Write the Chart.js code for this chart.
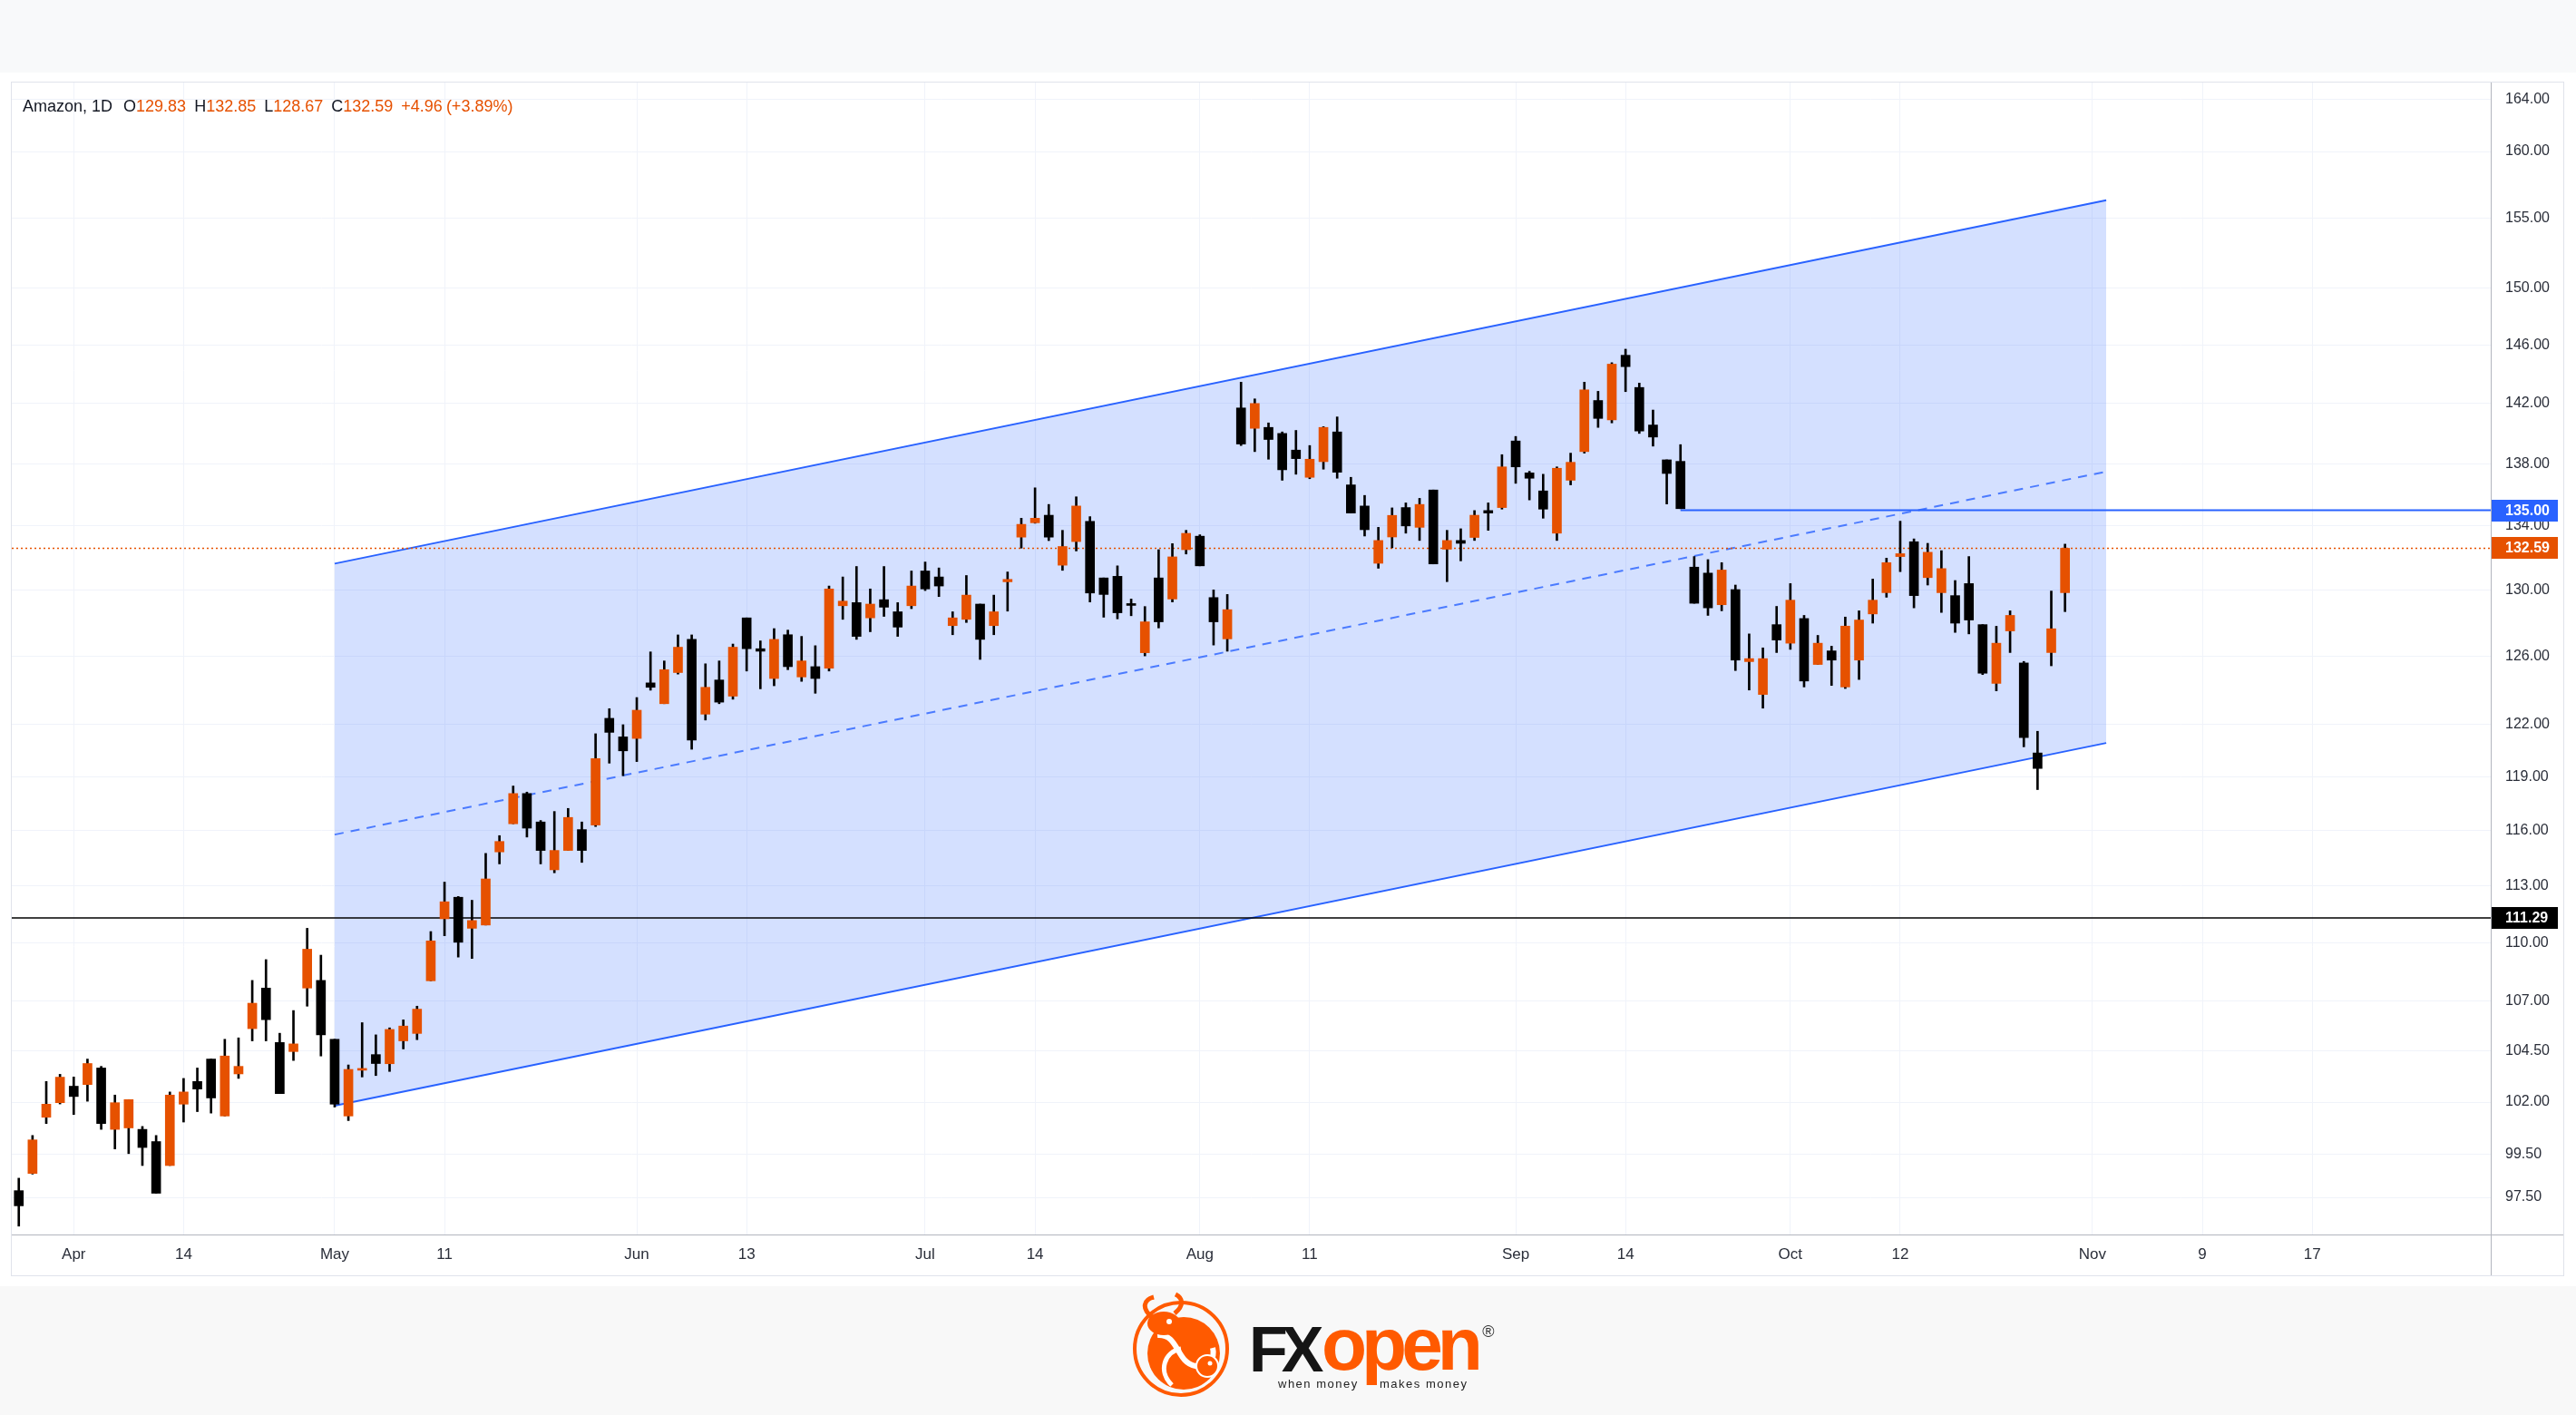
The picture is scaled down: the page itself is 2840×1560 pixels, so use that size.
<!DOCTYPE html>
<html>
<head>
<meta charset="utf-8">
<title>Amazon, 1D</title>
<script src="https://cdn.jsdelivr.net/npm/chart.js@4.4.0/dist/chart.umd.min.js"></script>
<style>
  html, body { margin: 0; padding: 0; }
  body { width: 2840px; height: 1560px; position: relative; background: #fff; overflow: hidden;
         font-family: "Liberation Sans", Arial, sans-serif; }
  #topband { position: absolute; left: 0; top: 0; width: 2840px; height: 80px; background: #f8f9fa; }
  #frame { position: absolute; left: 12px; top: 90px; width: 2815px; height: 1317px;
           border: 1px solid #e0e3eb; box-sizing: border-box; }
  #wrap { position: absolute; left: 13px; top: 91px; width: 2813px; height: 1315px; }
  #legend { position: absolute; left: 25px; top: 106px; height: 22px; line-height: 22px;
            font-size: 18px; color: #131722; white-space: nowrap; }
  #legend span { margin-right: 9px; }
  #legend span.first { margin-right: 12px; }
  #legend span.chg { margin-right: 4px; }
  #legend .v { color: #e65100; font-weight: normal; }
  #bottomband { position: absolute; left: 0; top: 1418px; width: 2840px; height: 142px; background: #f8f8f8; }
  #logo { position: absolute; left: 0; top: 0; }
</style>
</head>
<body>
<div id="topband"></div>
<div id="frame"></div>
<div id="wrap"><canvas id="chart"></canvas></div>
<div id="legend"></div>
<div id="bottomband"></div>
<svg id="logo" width="2840" height="1560">
  <circle cx="1302" cy="1487" r="51" fill="none" stroke="#ff5a00" stroke-width="4"/>
  <circle cx="1305" cy="1492" r="40" fill="#ff5a00"/>
  <path d="M1276 1472 C1300 1470 1296 1502 1318 1506 C1332 1509 1340 1498 1337 1486" fill="none" stroke="#fff" stroke-width="6"/>
  <path d="M1292 1527 C1276 1512 1284 1490 1302 1487" fill="none" stroke="#fff" stroke-width="5"/>
  <ellipse cx="1283" cy="1459" rx="18" ry="13" fill="#ff5a00"/>
  <path d="M1270 1452 C1258 1442 1261 1433 1272 1430" fill="none" stroke="#ff5a00" stroke-width="5"/>
  <path d="M1295 1448 C1306 1439 1304 1431 1296 1427" fill="none" stroke="#ff5a00" stroke-width="5"/>
  <circle cx="1289" cy="1457" r="3" fill="#fff"/>
  <circle cx="1331" cy="1506" r="12" fill="#ff5a00" stroke="#fff" stroke-width="2"/>
  <circle cx="1334" cy="1503" r="2.5" fill="#fff"/>
  <text x="1377" y="1512" font-family="Liberation Sans, Arial, sans-serif" font-weight="700" font-size="70" letter-spacing="-7" fill="#151515">FX</text>
  <text x="1457" y="1510" font-family="Liberation Sans, Arial, sans-serif" font-weight="700" font-size="82" letter-spacing="-6" fill="#ff5a00">open</text>
  <text x="1409" y="1530" font-family="Liberation Sans, Arial, sans-serif" font-size="13" letter-spacing="1.5" fill="#222">when money</text>
  <text x="1521" y="1530" font-family="Liberation Sans, Arial, sans-serif" font-size="13" letter-spacing="1.5" fill="#222">makes money</text>
  <text x="1641" y="1474" font-family="Liberation Sans, Arial, sans-serif" font-size="18" text-anchor="middle" fill="#333">®</text>
</svg>
<script>
// Amazon daily candles, 28 Mar - 30 Oct 2023 (one value per trading day)
const opens = [
  97.81, 98.61, 101.27, 101.97, 102.77, 102.85, 103.66, 100.69, 100.76, 100.69,
  100.11, 98.98, 101.90, 103.00, 104.10, 101.33, 103.37, 105.61, 107.66, 104.92,
  104.47, 107.66, 108.05, 105.08, 101.33, 103.55, 104.32, 103.87, 105.00, 105.37,
  108.03, 111.25, 112.39, 110.75, 110.92, 114.83, 116.37, 118.05, 116.47, 113.86,
  114.91, 116.05, 116.30, 122.33, 121.26, 121.17, 124.40, 123.18, 125.01, 126.99,
  122.57, 124.57, 123.62, 128.29, 126.43, 124.66, 127.27, 124.75, 125.36, 125.27,
  129.03, 129.22, 128.29, 129.40, 128.66, 129.03, 131.17, 130.80, 127.82, 128.20,
  129.13, 127.82, 130.50, 133.29, 134.20, 134.68, 131.53, 133.01, 134.29, 130.74,
  130.84, 129.16, 126.19, 130.74, 129.44, 132.50, 133.35, 129.53, 127.02, 141.70,
  140.34, 140.40, 140.00, 138.90, 137.12, 138.14, 140.10, 136.63, 135.27, 131.65,
  133.30, 135.17, 133.91, 136.30, 132.53, 133.08, 133.27, 134.98, 135.17, 139.50,
  137.41, 136.24, 133.54, 136.93, 138.80, 142.20, 140.90, 145.28, 143.08, 140.56,
  138.26, 138.16, 131.41, 131.04, 129.09, 130.02, 125.66, 123.72, 127.88, 126.76,
  128.25, 125.49, 126.30, 124.16, 125.75, 128.53, 129.83, 132.07, 133.00, 130.76,
  129.83, 129.65, 130.39, 127.88, 124.37, 127.50, 125.58, 120.34, 126.20, 129.83
];
const highs = [
  98.39, 100.40, 103.00, 103.35, 103.22, 104.10, 103.74, 102.34, 102.12, 100.83,
  100.40, 102.49, 103.15, 103.66, 104.10, 105.08, 105.15, 108.05, 109.12, 105.38,
  106.52, 110.75, 109.35, 105.08, 103.81, 105.91, 105.30, 105.65, 106.05, 106.74,
  110.58, 113.20, 112.43, 112.23, 114.75, 115.72, 118.47, 118.13, 116.55, 117.05,
  117.22, 116.47, 121.44, 122.89, 121.96, 123.54, 126.24, 125.70, 127.26, 127.26,
  125.53, 125.70, 126.71, 128.29, 126.90, 127.64, 127.55, 127.17, 126.61, 130.24,
  130.80, 131.45, 130.06, 131.45, 129.22, 131.17, 131.73, 131.36, 128.66, 130.89,
  129.13, 129.68, 131.11, 134.49, 136.44, 135.37, 133.72, 135.86, 134.59, 130.74,
  131.49, 129.44, 128.98, 132.50, 132.88, 133.72, 133.44, 130.00, 129.72, 143.44,
  142.31, 140.70, 140.10, 140.20, 139.20, 140.45, 141.10, 137.12, 135.95, 133.91,
  135.15, 135.47, 135.76, 136.30, 133.72, 133.82, 134.98, 135.47, 138.60, 139.80,
  137.51, 137.32, 137.80, 138.70, 143.44, 142.82, 144.77, 145.70, 143.38, 141.56,
  138.26, 139.26, 132.07, 131.88, 131.69, 130.30, 127.32, 126.48, 128.99, 130.39,
  128.44, 127.23, 126.58, 128.34, 128.72, 130.67, 131.97, 134.30, 133.18, 132.90,
  132.44, 130.58, 132.07, 127.88, 127.78, 128.72, 125.67, 121.58, 129.93, 132.85
];
const lows = [
  96.18, 98.58, 100.97, 101.91, 101.40, 102.04, 100.69, 99.76, 99.54, 98.98,
  97.69, 98.98, 101.04, 101.54, 101.47, 101.33, 103.15, 105.00, 105.00, 102.41,
  104.03, 106.74, 104.25, 101.76, 101.11, 103.22, 103.29, 103.49, 104.60, 105.06,
  108.03, 110.36, 109.25, 109.18, 110.92, 114.18, 116.37, 115.64, 114.18, 113.70,
  114.91, 114.26, 116.22, 119.76, 119.05, 119.85, 123.97, 123.18, 124.92, 120.55,
  122.23, 123.18, 123.44, 125.10, 124.05, 124.23, 125.18, 124.49, 123.79, 125.10,
  128.20, 126.99, 127.45, 128.38, 127.17, 128.85, 129.96, 129.59, 127.27, 128.01,
  125.79, 127.27, 128.70, 132.60, 134.17, 133.07, 131.21, 132.42, 129.26, 128.33,
  128.23, 128.42, 126.00, 127.68, 129.26, 132.23, 131.49, 126.65, 126.28, 139.20,
  138.80, 138.30, 136.93, 137.32, 137.03, 137.65, 137.06, 134.82, 133.36, 131.34,
  132.62, 133.54, 133.08, 131.61, 130.51, 131.80, 133.08, 133.72, 135.07, 136.73,
  135.66, 134.49, 133.08, 136.63, 138.70, 140.40, 140.70, 142.80, 140.00, 139.16,
  135.40, 135.10, 129.18, 128.44, 128.72, 125.13, 123.98, 122.92, 126.20, 126.39,
  124.16, 125.49, 124.25, 124.07, 124.60, 127.97, 129.55, 131.13, 128.90, 130.30,
  128.62, 127.41, 127.32, 124.89, 123.93, 126.20, 120.69, 118.27, 125.41, 128.67
];
const closes = [
  97.11, 100.19, 101.90, 103.21, 102.27, 103.88, 100.97, 101.97, 102.12, 99.83,
  97.69, 102.34, 102.49, 102.63, 102.20, 104.25, 103.74, 106.89, 106.06, 102.41,
  104.85, 109.66, 105.30, 101.90, 103.59, 103.60, 103.88, 105.57, 105.74, 106.59,
  110.09, 112.15, 110.02, 111.16, 113.37, 115.40, 118.05, 116.13, 114.91, 114.91,
  116.72, 114.91, 120.02, 121.52, 120.46, 122.80, 124.14, 125.18, 126.52, 121.08,
  124.14, 123.27, 126.52, 126.43, 126.28, 126.99, 125.36, 125.70, 124.66, 130.06,
  129.31, 127.17, 129.13, 128.94, 127.73, 130.24, 130.06, 130.24, 128.29, 129.68,
  126.99, 128.66, 130.65, 134.10, 134.49, 133.29, 132.70, 135.27, 129.81, 129.72,
  128.60, 129.05, 128.05, 128.05, 132.05, 133.53, 131.49, 128.05, 128.79, 139.30,
  142.00, 139.60, 137.61, 138.34, 138.30, 140.40, 137.45, 134.82, 133.76, 133.08,
  134.67, 134.00, 135.37, 131.61, 133.08, 132.90, 134.68, 134.82, 137.80, 137.80,
  137.06, 135.07, 137.71, 138.10, 142.92, 141.00, 144.67, 144.50, 140.16, 139.76,
  137.37, 135.10, 129.18, 128.90, 131.23, 125.75, 125.84, 125.84, 126.95, 129.37,
  124.51, 126.76, 125.75, 127.79, 128.16, 129.37, 131.69, 132.25, 129.65, 132.34,
  131.32, 127.97, 128.16, 124.97, 126.76, 128.44, 121.22, 119.46, 127.63, 132.59
];

// trading calendar: weekdays minus exchange holidays, then calendar days after the last bar
const firstDay = '2023-03-28';
const lastTradingDay = '2023-10-31';
const lastSlotDay = '2023-11-30';
const holidays = ['2023-04-07', '2023-05-29', '2023-06-19', '2023-07-04', '2023-09-04'];

const xTickDates = ['2023-04-03', '2023-04-14', '2023-05-01', '2023-05-11', '2023-06-01', '2023-06-13',
  '2023-07-03', '2023-07-14', '2023-08-01', '2023-08-11', '2023-09-01', '2023-09-14',
  '2023-10-02', '2023-10-12', '2023-11-01', '2023-11-09', '2023-11-17'];
const xTickLabels = ['Apr', '14', 'May', '11', 'Jun', '13', 'Jul', '14', 'Aug', '11', 'Sep', '14',
  'Oct', '12', 'Nov', '9', '17'];
const yTickValues = [164, 160, 155, 150, 146, 142, 138, 134, 130, 126, 122, 119, 116, 113, 110,
  107, 104.5, 102, 99.5, 97.5];

// parallel channel drawn on the chart
const channelDates = ['2023-05-01', '2023-11-02'];
const channelUpper = [131.63, 156.35];
const channelLower = [101.83, 120.91];

const supportLevel = 111.29;
const resistanceLevel = 135.00;
const resistanceFrom = '2023-09-20';

function buildSlots() {
  const out = [];
  const end = Date.parse(lastSlotDay);
  for (let t = Date.parse(firstDay); t <= end; t += 86400000) {
    const d = new Date(t);
    const s = d.toISOString().slice(0, 10);
    const wd = d.getUTCDay();
    if (s <= lastTradingDay && (wd === 0 || wd === 6 || holidays.includes(s))) continue;
    out.push(s);
  }
  return out;
}
const slots = buildSlots();
const slotOf = d => slots.indexOf(d);
const xMin = -0.51;
const xMax = slots.length - 1;

const upColor = '#e65100';
const downColor = '#000000';
const blue = '#2962ff';
const last = closes.length - 1;
const lastClose = closes[last];

const candleColors = closes.map((c, i) => c >= opens[i] ? upColor : downColor);
const wickData = highs.map((h, i) => ({ x: i, y: [lows[i], h] }));
const bodyData = opens.map((o, i) => ({ x: i, y: [o, closes[i]] }));
const chanX = channelDates.map(slotOf);
const midline = channelUpper.map((u, k) => Math.sqrt(u * channelLower[k]));
const xTickIdx = xTickDates.map(slotOf);

// legend line
const chg = closes[last] - closes[last - 1];
const pct = chg / closes[last - 1] * 100;
document.getElementById('legend').innerHTML =
  '<span class="first">Amazon, 1D</span>' +
  '<span>O<b class="v">' + opens[last].toFixed(2) + '</b></span>' +
  '<span>H<b class="v">' + highs[last].toFixed(2) + '</b></span>' +
  '<span>L<b class="v">' + lows[last].toFixed(2) + '</b></span>' +
  '<span>C<b class="v">' + closes[last].toFixed(2) + '</b></span>' +
  '<span class="chg v">' + (chg >= 0 ? '+' : '') + chg.toFixed(2) + '</span>' +
  '<span class="v">(' + (pct >= 0 ? '+' : '') + pct.toFixed(2) + '%)</span>';

const badges = [
  { value: resistanceLevel, color: blue },
  { value: lastClose, color: upColor },
  { value: supportLevel, color: '#000000' }
];

const axisBadges = {
  id: 'axisBadges',
  afterDraw(chart) {
    const { ctx, chartArea } = chart;
    const y = chart.scales.y;
    ctx.save();
    ctx.strokeStyle = '#b2b5be';
    ctx.lineWidth = 1;
    ctx.beginPath();
    ctx.moveTo(chartArea.right + 0.5, 0);
    ctx.lineTo(chartArea.right + 0.5, chart.height);
    ctx.moveTo(0, chartArea.bottom + 0.5);
    ctx.lineTo(chart.width, chartArea.bottom + 0.5);
    ctx.stroke();
    ctx.font = 'bold 16px "Liberation Sans", Arial, sans-serif';
    ctx.textBaseline = 'middle';
    badges.forEach(b => {
      const py = Math.round(y.getPixelForValue(b.value));
      ctx.fillStyle = b.color;
      ctx.fillRect(chartArea.right + 1, py - 12, 73, 24);
      ctx.fillStyle = '#ffffff';
      ctx.fillText(b.value.toFixed(2), chartArea.right + 16, py + 1);
    });
    ctx.restore();
  }
};

new Chart(document.getElementById('chart'), {
  type: 'bar',
  data: {
    datasets: [
      {
        type: 'line', data: chanX.map((x, k) => ({ x, y: channelUpper[k] })),
        borderColor: blue, borderWidth: 2, pointRadius: 0,
        fill: '+1', backgroundColor: 'rgba(41, 98, 255, 0.2)', order: 6
      },
      {
        type: 'line', data: chanX.map((x, k) => ({ x, y: channelLower[k] })),
        borderColor: blue, borderWidth: 2, pointRadius: 0, fill: false, order: 6
      },
      {
        type: 'line', data: chanX.map((x, k) => ({ x, y: midline[k] })),
        borderColor: 'rgba(41, 98, 255, 0.8)', borderWidth: 2, borderDash: [10, 8],
        pointRadius: 0, fill: false, order: 5
      },
      {
        type: 'line', data: [{ x: xMin, y: supportLevel }, { x: xMax, y: supportLevel }],
        borderColor: '#000000', borderWidth: 1.5, pointRadius: 0, fill: false, order: 4
      },
      {
        type: 'line', data: [{ x: slotOf(resistanceFrom), y: resistanceLevel }, { x: xMax, y: resistanceLevel }],
        borderColor: blue, borderWidth: 2, pointRadius: 0, fill: false, order: 4
      },
      {
        type: 'line', data: [{ x: xMin, y: lastClose }, { x: xMax, y: lastClose }],
        borderColor: upColor, borderWidth: 1.5, borderDash: [2, 3], pointRadius: 0, fill: false, order: 3
      },
      {
        data: wickData, backgroundColor: '#000000', barThickness: 2, grouped: false, order: 2
      },
      {
        data: bodyData, backgroundColor: candleColors, barThickness: 10, minBarLength: 2,
        grouped: false, borderWidth: 0, order: 1
      }
    ]
  },
  options: {
    responsive: true,
    maintainAspectRatio: false,
    devicePixelRatio: 1,
    animation: false,
    layout: { padding: 0 },
    plugins: { legend: { display: false }, tooltip: { enabled: false } },
    scales: {
      x: {
        type: 'linear', position: 'bottom', min: xMin, max: xMax, bounds: 'data', offset: false,
        grid: { color: '#f0f3fa', drawTicks: false, offset: false },
        border: { color: '#b2b5be' },
        ticks: {
          autoSkip: false, maxRotation: 0, padding: 12, color: '#2a2e39',
          font: { size: 17, family: '"Liberation Sans", Arial, sans-serif' },
          callback: v => xTickLabels[xTickIdx.indexOf(v)]
        },
        afterBuildTicks: s => { s.ticks = xTickIdx.map(v => ({ value: v })); },
        afterFit: s => { s.height = 45; s.paddingLeft = 0; s.paddingRight = 0; }
      },
      y: {
        type: 'logarithmic', position: 'right', min: 95.80, max: 165.31, bounds: 'data',
        grid: { color: '#f0f3fa', drawTicks: false },
        border: { color: '#b2b5be' },
        ticks: {
          autoSkip: false, padding: 16, color: '#2a2e39',
          font: { size: 16, family: '"Liberation Sans", Arial, sans-serif' },
          callback: v => Number(v).toFixed(2)
        },
        afterBuildTicks: s => { s.ticks = yTickValues.map(v => ({ value: v })); },
        afterFit: s => { s.width = 80; s.paddingTop = 0; s.paddingBottom = 0; }
      }
    }
  },
  plugins: [axisBadges]
});
</script>
</body>
</html>
